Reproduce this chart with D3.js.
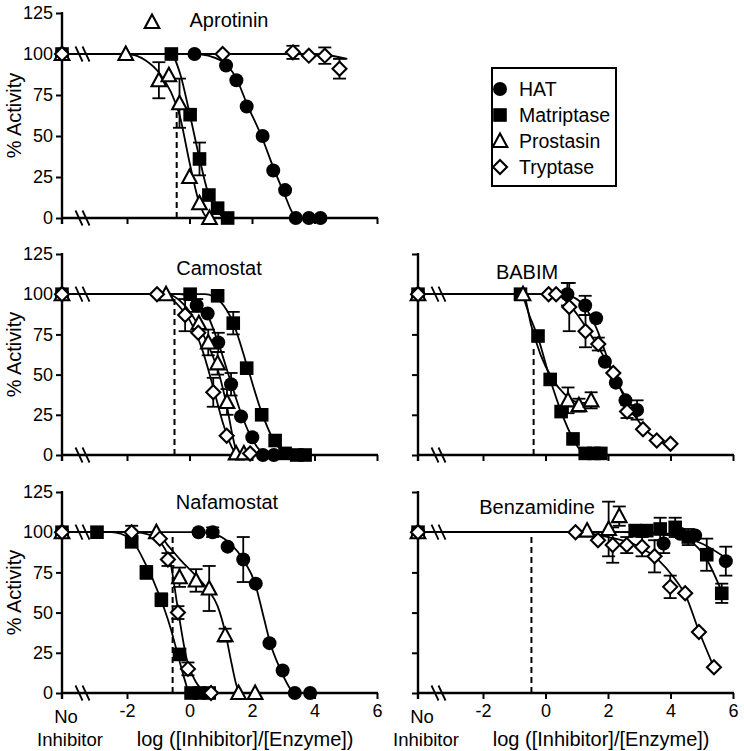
<!DOCTYPE html>
<html><head><meta charset="utf-8">
<script src="https://cdn.jsdelivr.net/npm/d3@7"></script>
<style>
body{margin:0;background:#fff}
svg{display:block}
text{font-family:"Liberation Sans",Arial,sans-serif;fill:#000}
</style>
</head><body>
<svg id="chart" width="744" height="751"></svg>
<script>
// ---------------- DATA ----------------
const NO_INH = -4.08;               // x position of the "No Inhibitor" point
const seriesNames = ["HAT","Matriptase","Prostasin","Tryptase"];
const xTickValues = [-2,0,2,4,6];
const yTickValues = [0,25,50,75,100,125];
const panelTitles = ["Aprotinin","Camostat","BABIM","Nafamostat","Benzamidine"];
const dashLog = [-0.41,-0.48,-0.38,-0.54,-0.45];
const dashTop = [65,97,67,100,98];

// points: [log([I]/[E]), % activity, error]
const aprotininHAT = [[NO_INH,100,0],[0.16,100,0],[1.17,93,0],[1.5,84,0],[1.83,68,0],[2.34,50,0],[2.68,29,0],[3.06,17,0],[3.4,0,0],[3.82,0,0],[4.19,0,0]];
const aprotininMatriptase = [[NO_INH,100,0],[-0.58,100,0],[0.02,63,0],[0.32,36,10],[0.62,14,0],[0.9,6,0],[1.22,0,0]];
const aprotininProstasin = [[NO_INH,100,0],[-2.04,100,0],[-0.98,84,11],[-0.66,87,0],[-0.32,70,15],[0.0,25,0],[0.32,9,0],[0.64,0,0]];
const aprotininTryptase = [[NO_INH,100,0],[1.06,100,0],[3.31,101,4],[3.82,99,0],[4.33,99,5],[4.8,91,6]];

const camostatHAT = [[NO_INH,100,0],[0.23,93,4],[0.58,88,0],[0.92,70,6],[1.33,44,7],[1.65,24,0],[2.01,11,0],[2.35,0,0],[2.7,0,0]];
const camostatMatriptase = [[NO_INH,100,0],[0.02,100,0],[0.9,99,0],[1.4,82,7],[1.83,54,0],[2.31,25,0],[2.74,9,0],[3.06,1,0],[3.43,0,0],[3.7,0,0]];
const camostatProstasin = [[NO_INH,100,0],[-0.75,100,0],[0.3,82,0],[0.6,70,8],[0.9,57,7],[1.2,33,8],[1.49,1,0],[1.74,1,0]];
const camostatTryptase = [[NO_INH,100,0],[-1.04,100,0],[-0.14,87,10],[0.28,76,0],[0.76,39,9],[1.19,12,0],[1.94,1,0]];

const babimHAT = [[NO_INH,100,0],[0.7,100,7],[1.27,93,6],[1.62,85,0],[1.9,58,0],[2.25,45,0],[2.56,34,0],[2.93,28,6]];
const babimMatriptase = [[NO_INH,100,0],[-0.8,100,0],[-0.24,74,0],[0.15,47,0],[0.5,27,0],[0.88,10,0],[1.27,1,0],[1.55,1,0],[1.77,1,0]];
const babimProstasin = [[NO_INH,100,0],[-0.72,100,0],[0.72,34,8],[1.07,31,4],[1.46,34,5]];
const babimTryptase = [[NO_INH,100,0],[0.1,100,0],[0.34,100,0],[0.76,92,15],[1.28,77,10],[1.69,69,4],[2.17,51,0],[2.61,27,4],[3.12,16,0],[3.56,9,0],[4.0,7,0]];

const nafamostatHAT = [[NO_INH,100,0],[0.29,100,0],[0.74,100,3],[1.22,91,0],[1.72,83,14],[2.12,68,0],[2.56,31,0],[2.98,14,0],[3.37,0,0],[3.86,0,0]];
const nafamostatMatriptase = [[NO_INH,100,0],[-2.96,100,0],[-1.85,94,3],[-1.38,75,4],[-0.9,58,4],[-0.32,24,3],[0.05,0,0],[0.32,0,0],[0.63,0,0]];
const nafamostatProstasin = [[NO_INH,100,0],[-1.06,100,0],[-0.32,72,6],[0.21,70,7],[0.63,65,14],[1.14,36,4],[1.57,0,0],[2.1,0,0]];
const nafamostatTryptase = [[NO_INH,100,0],[-1.85,100,4],[-0.95,96,0],[-0.69,83,4],[-0.37,50,4],[-0.05,15,4],[0.69,0,0]];

const benzamidineHAT = [[NO_INH,100,0],[3.78,93,6],[4.31,99,0],[4.79,98,0],[5.77,82,9]];
const benzamidineMatriptase = [[NO_INH,100,0],[2.87,101,3],[3.24,101,0],[3.67,102,7],[4.15,103,6],[4.57,97,5],[5.16,86,10],[5.64,62,6]];
const benzamidineProstasin = [[NO_INH,100,0],[1.33,101,0],[2.02,102,17],[2.36,110,6]];
const benzamidineTryptase = [[NO_INH,100,0],[0.96,100,0],[1.68,95,0],[2.15,92,11],[2.6,92,5],[3.09,91,6],[3.49,85,10],[3.99,66,7],[4.47,62,0],[4.91,38,0],[5.39,16,0]];

// fitted curves, knots: [log([I]/[E]), % activity]
const aprotininHATFit = [[NO_INH,100],[0.2,100],[1.0,96],[1.5,85],[1.85,69],[2.3,50],[2.7,30],[3.05,14],[3.3,3],[3.45,0],[4.19,0]];
const aprotininMatriptaseFit = [[NO_INH,100],[-0.6,100],[-0.3,88],[0.0,64],[0.3,38],[0.6,15],[0.9,4],[1.15,0],[1.22,0]];
const aprotininProstasinFit = [[NO_INH,100],[-2.0,100],[-1.4,96],[-0.95,88],[-0.6,77],[-0.32,63],[0.0,34],[0.3,10],[0.6,0],[0.64,0]];
const aprotininTryptaseFit = [[NO_INH,100],[4.0,100],[5.05,97]];

const camostatHATFit = [[NO_INH,100],[-0.3,100],[0.25,94],[0.6,86],[0.95,68],[1.33,45],[1.65,26],[1.95,12],[2.25,3],[2.45,0],[2.7,0]];
const camostatMatriptaseFit = [[NO_INH,100],[0.5,100],[1.0,95],[1.4,82],[1.85,55],[2.3,27],[2.7,9],[3.0,2],[3.2,0],[3.7,0]];
const camostatProstasinFit = [[NO_INH,100],[-0.75,100],[-0.2,94],[0.3,80],[0.65,66],[0.95,50],[1.2,30],[1.4,10],[1.55,0],[1.74,0]];
const camostatTryptaseFit = [[NO_INH,100],[-0.9,100],[-0.4,94],[0.0,84],[0.4,66],[0.76,42],[1.1,18],[1.35,5],[1.55,0],[1.94,0]];

const babimHATFit = [[NO_INH,100],[0.4,100],[0.9,98],[1.3,91],[1.65,78],[1.95,62],[2.25,47],[2.6,35],[2.93,27]];
const babimMatriptaseFit = [[NO_INH,100],[-0.8,100],[-0.5,86],[-0.24,73],[0.15,47],[0.5,27],[0.88,10],[1.15,2],[1.3,0],[1.77,0]];
const babimProstasinFit = [[NO_INH,100],[-0.72,100],[-0.45,80],[-0.15,62],[0.2,48],[0.6,38],[1.0,33],[1.46,32]];
const babimTryptaseFit = [[NO_INH,100],[0.3,100],[0.7,95],[1.1,85],[1.5,73],[1.9,60],[2.3,45],[2.7,29],[3.1,18],[3.55,10],[4.0,6]];

const nafamostatHATFit = [[NO_INH,100],[0.3,100],[0.9,98],[1.3,93],[1.75,82],[2.1,68],[2.35,49],[2.6,30],[2.9,15],[3.15,5],[3.35,0],[3.86,0]];
const nafamostatMatriptaseFit = [[NO_INH,100],[-2.5,100],[-1.9,96],[-1.4,80],[-0.95,60],[-0.6,40],[-0.35,22],[-0.15,8],[0.0,0],[0.63,0]];
const nafamostatProstasinFit = [[NO_INH,100],[-1.06,100],[-0.7,92],[-0.3,83],[0.2,73],[0.6,64],[0.9,54],[1.14,38],[1.35,18],[1.5,5],[1.6,0],[2.1,0]];
const nafamostatTryptaseFit = [[NO_INH,100],[-1.85,100],[-1.2,98],[-0.9,93],[-0.6,80],[-0.37,52],[-0.1,22],[0.2,7],[0.5,1],[0.69,0]];

const benzamidineHATFit = [[NO_INH,100],[2.5,100],[4.0,98],[5.0,93],[5.77,84]];
const benzamidineMatriptaseFit = [[NO_INH,100],[2.8,100],[4.0,99],[4.6,95],[5.16,83],[5.64,63]];
const benzamidineProstasinFit = [[NO_INH,100],[2.36,100]];
const benzamidineTryptaseFit = [[NO_INH,100],[1.0,100],[2.0,97],[3.0,91],[3.6,83],[4.1,72],[4.5,60],[4.9,39],[5.39,16]];

// ---------------- LAYOUT ----------------
const panels = [
  {row:0,col:0,pts:[aprotininHAT,aprotininMatriptase,aprotininProstasin,aprotininTryptase],
   fits:[aprotininHATFit,aprotininMatriptaseFit,aprotininProstasinFit,aprotininTryptaseFit],tx:229,ty:27},
  {row:1,col:0,pts:[camostatHAT,camostatMatriptase,camostatProstasin,camostatTryptase],
   fits:[camostatHATFit,camostatMatriptaseFit,camostatProstasinFit,camostatTryptaseFit],tx:219,ty:275},
  {row:1,col:1,pts:[babimHAT,babimMatriptase,babimProstasin,babimTryptase],
   fits:[babimHATFit,babimMatriptaseFit,babimProstasinFit,babimTryptaseFit],tx:527,ty:279},
  {row:2,col:0,pts:[nafamostatHAT,nafamostatMatriptase,nafamostatProstasin,nafamostatTryptase],
   fits:[nafamostatHATFit,nafamostatMatriptaseFit,nafamostatProstasinFit,nafamostatTryptaseFit],tx:227,ty:509},
  {row:2,col:1,pts:[benzamidineHAT,benzamidineMatriptase,benzamidineProstasin,benzamidineTryptase],
   fits:[benzamidineHATFit,benzamidineMatriptaseFit,benzamidineProstasinFit,benzamidineTryptaseFit],tx:537,ty:514}
];
panels.forEach((p,i)=>{p.title=panelTitles[i];p.dx=dashLog[i];p.dy=dashTop[i];});

const colX0 = [62, 418];
const rowY0 = [218, 455, 693];
const rowH = [205, 201, 201];
const plotW = 315;

const svg = d3.select("#chart");

function drawMarker(g, kind, cx, cy){
  if(kind===0){ g.append("circle").attr("cx",cx).attr("cy",cy).attr("r",7).attr("fill","#000"); }
  else if(kind===1){ g.append("rect").attr("x",cx-6.8).attr("y",cy-6.8).attr("width",13.6).attr("height",13.6).attr("fill","#000"); }
  else if(kind===2){ g.append("path").attr("d",`M${cx},${cy-7.5}L${cx+7.3},${cy+6}L${cx-7.3},${cy+6}Z`)
      .attr("fill","#fff").attr("stroke","#000").attr("stroke-width",2.1).attr("stroke-linejoin","miter"); }
  else { g.append("path").attr("d",`M${cx},${cy-7}L${cx+7},${cy}L${cx},${cy+7}L${cx-7},${cy}Z`)
      .attr("fill","#fff").attr("stroke","#000").attr("stroke-width",2.1); }
}

function breakMarks(g, x, y){
  [0,7].forEach(o=>{
    g.append("line").attr("x1",x+o-3.5).attr("y1",y-7.5).attr("x2",x+o+3.5).attr("y2",y+7.5)
      .attr("stroke","#000").attr("stroke-width",1.8);
  });
}

panels.forEach(p=>{
  const x0 = colX0[p.col], y0 = rowY0[p.row], plotH = rowH[p.row];
  const x = d3.scaleLinear().domain([NO_INH,6]).range([x0, x0+plotW]);
  const y = d3.scaleLinear().domain([0,125]).range([y0, y0-plotH]);
  const g = svg.append("g");

  // axes
  const ya = d3.axisLeft(y).tickValues(yTickValues).tickSize(6).tickSizeOuter(0).tickPadding(3);
  if(p.col===1) ya.tickFormat("");
  const yg = g.append("g").attr("transform",`translate(${x0},0)`).call(ya);
  yg.select(".domain").remove();
  yg.selectAll("line").attr("stroke","#000").attr("stroke-width",2);
  yg.selectAll("text").style("font-size","18px").attr("fill","#000");

  const xa = d3.axisBottom(x).tickValues(xTickValues).tickSize(6).tickSizeOuter(0).tickPadding(5)
    .tickFormat(p.row===2 ? (d=>d<0?"-"+Math.abs(d):String(d)) : "");
  const xg = g.append("g").attr("transform",`translate(0,${y0})`).call(xa);
  xg.select(".domain").remove();
  xg.selectAll("line").attr("stroke","#000").attr("stroke-width",2);
  xg.selectAll("text").style("font-size","18px").attr("fill","#000");

  // axis lines
  g.append("line").attr("x1",x0).attr("x2",x0).attr("y1",y(125)-1).attr("y2",y0+6)
    .attr("stroke","#000").attr("stroke-width",2.4);
  g.append("line").attr("x1",x0).attr("x2",x(6)+1).attr("y1",y0).attr("y2",y0)
    .attr("stroke","#000").attr("stroke-width",2.4);

  // fitted curves
  const line = d3.line().x(d=>x(d[0])).y(d=>y(d[1])).curve(d3.curveMonotoneX);
  p.fits.forEach(f=>{
    g.append("path").attr("d",line(f)).attr("fill","none").attr("stroke","#000").attr("stroke-width",1.8);
  });

  // break marks
  breakMarks(g, x0+17, y(100));
  breakMarks(g, x0+17, y0);

  // dashed line
  g.append("line").attr("x1",x(p.dx)).attr("x2",x(p.dx)).attr("y1",y0).attr("y2",y(p.dy))
    .attr("stroke","#000").attr("stroke-width",2).attr("stroke-dasharray","6,4");

  // error bars
  p.pts.forEach(s=>{
    s.filter(d=>d[2]>0).forEach(d=>{
      const cx=x(d[0]), t=y(d[1]+d[2]), b=y(d[1]-d[2]);
      g.append("line").attr("x1",cx).attr("x2",cx).attr("y1",t).attr("y2",b).attr("stroke","#000").attr("stroke-width",1.8);
      [t,b].forEach(v=>g.append("line").attr("x1",cx-6.5).attr("x2",cx+6.5).attr("y1",v).attr("y2",v)
        .attr("stroke","#000").attr("stroke-width",1.8));
    });
  });

  // markers
  p.pts.forEach((s,k)=>{
    s.forEach(d=>drawMarker(g,k,x(d[0]),y(d[1])));
  });

  // title
  g.append("text").attr("x",p.tx).attr("y",p.ty).attr("text-anchor","middle")
    .style("font-size","20px").text(p.title);

  // y label
  if(p.col===0){
    g.append("text").attr("transform",`translate(21,${y(62.5)}) rotate(-90)`)
      .attr("text-anchor","middle").style("font-size","20px").text("% Activity");
  }
  // x labels
  if(p.row===2){
    g.append("text").attr("x",x0+4).attr("y",y0+30).attr("text-anchor","middle").style("font-size","18.5px").text("No");
    g.append("text").attr("x",x0+8).attr("y",y0+53).attr("text-anchor","middle").style("font-size","18.5px").text("Inhibitor");
    g.append("text").attr("x",x(1.78)).attr("y",y0+53).attr("text-anchor","middle").style("font-size","20px")
      .text("log ([Inhibitor]/[Enzyme])");
  }
});

// stray triangle next to the Aprotinin title
drawMarker(svg.append("g"), 2, 152, 22);

// legend
const lg = svg.append("g");
lg.append("rect").attr("x",492).attr("y",68).attr("width",124).attr("height",118)
  .attr("fill","#fff").attr("stroke","#000").attr("stroke-width",2);
seriesNames.forEach((n,i)=>{
  const cy = 89 + i*26;
  drawMarker(lg, i, 500, cy);
  lg.append("text").attr("x",519).attr("y",cy+7).style("font-size","19.5px").text(n);
});
</script>
</body></html>
